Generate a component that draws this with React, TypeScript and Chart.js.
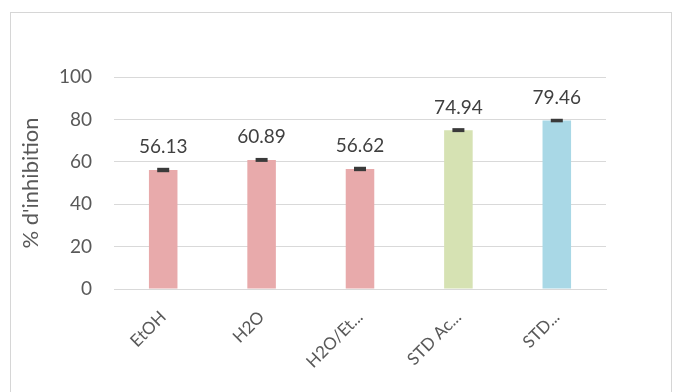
import React, { useEffect, useRef } from "react";
import { Chart, registerables } from "chart.js";

Chart.register(...registerables);

const categories = ["EtOH", "H2O", "H2O/Et...", "STD Ac...", "STD..."];
const values = [56.13, 60.89, 56.62, 74.94, 79.46];
const errors = [0.8, 0.7, 0.8, 0.7, 0.6];
const barColors = ["#E8AAAB", "#E8AAAB", "#E8AAAB", "#D6E2B3", "#A9D8E6"];
const yTicks = [0, 20, 40, 60, 80, 100];
const yTitle = "% d'inhibition";

const FONT = "Lato, 'Open Sans', sans-serif";

const errorBarPlugin = {
  id: "errorBars",
  afterDatasetsDraw(chart: any) {
    const ctx = chart.ctx;
    const meta = chart.getDatasetMeta(0);
    const y = chart.scales.y;
    ctx.save();
    meta.data.forEach((bar: any, i: number) => {
      const v = values[i];
      const e = errors[i];
      const top = y.getPixelForValue(v + e);
      const bot = y.getPixelForValue(v - e);
      const half = 6;
      ctx.fillStyle = "#3a3a3a";
      ctx.fillRect(bar.x - half, top - 0.5, half * 2, Math.max(3, bot - top + 1));
      // value label
      ctx.fillStyle = "#404040";
      ctx.font = `19px ${FONT}`;
      ctx.textAlign = "center";
      ctx.textBaseline = "alphabetic";
      ctx.fillText(v.toFixed(2), bar.x, top - 15);
    });
    ctx.restore();
  },
};

export default function App() {
  const ref = useRef<HTMLCanvasElement | null>(null);
  useEffect(() => {
    if (!ref.current) return;
    const chart = new Chart(ref.current, {
      type: "bar",
      data: {
        labels: categories,
        datasets: [
          {
            data: values,
            backgroundColor: barColors,
            borderWidth: 0,
            barPercentage: 0.29,
            categoryPercentage: 1,
          },
        ],
      },
      options: {
        animation: false,
        responsive: false,
        maintainAspectRatio: false,
        layout: { padding: { left: 14, right: 73, top: 77, bottom: 0 } },
        plugins: {
          legend: { display: false },
          tooltip: { enabled: false },
        },
        scales: {
          x: {
            grid: { display: false, drawTicks: false },
            border: { display: true, color: "#d9d9d9", width: 1 },
            ticks: {
              minRotation: 45,
              maxRotation: 45,
              autoSkip: false,
              padding: 18,
              color: "#595959",
              font: { family: FONT, size: 17 },
            },
            afterFit: (s: any) => {
              s.height = 103;
            },
          },
          y: {
            min: 0,
            max: 100,
            afterBuildTicks: (s: any) => {
              s.ticks = yTicks.map((v) => ({ value: v }));
            },
            grid: { color: "#d9d9d9", drawTicks: false, lineWidth: 1 },
            border: { display: false },
            ticks: {
              padding: 22,
              color: "#595959",
              font: { family: FONT, size: 19 },
            },
            title: {
              display: true,
              text: yTitle,
              color: "#595959",
              font: { family: FONT, size: 22, weight: "normal" },
              padding: { top: 4, bottom: 0 },
            },
            afterFit: (s: any) => {
              s.width = 100;
            },
          },
        },
      },
      plugins: [errorBarPlugin],
    });
    return () => chart.destroy();
  }, []);
  return (
    <div style={{ position: "fixed", left: 0, top: 0, width: 679, height: 392, background: "#fff" }}>
      <div
        style={{
          position: "absolute",
          left: 10,
          top: 12,
          width: 662,
          height: 390,
          border: "1px solid #d6d6d6",
          boxSizing: "border-box",
        }}
      />
      <canvas ref={ref} width={679} height={392} style={{ position: "absolute", left: 0, top: 0 }} />
    </div>
  );
}
